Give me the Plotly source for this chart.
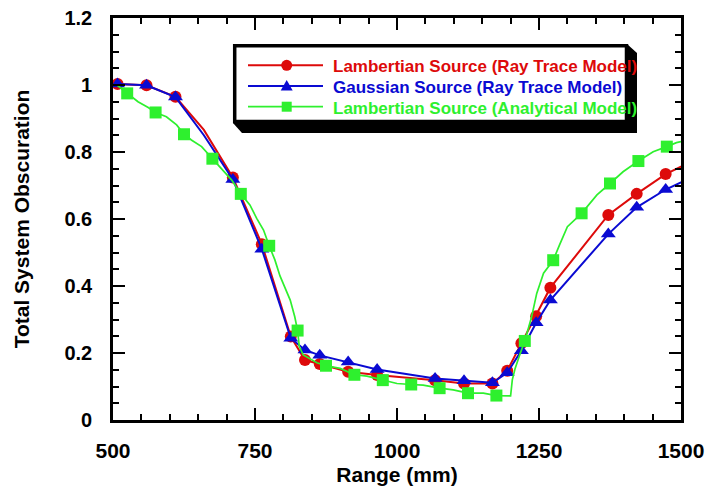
import plotly.graph_objects as go

# ---------------- data ----------------
ray_x = [508, 559, 610, 660, 711, 762, 813, 838, 864, 914, 965, 1067, 1118,
         1168, 1194, 1219, 1245, 1270, 1372, 1422, 1473, 1524]
lamb_ray_y = [1.003, 0.999, 0.965, 0.866, 0.724, 0.525, 0.249, 0.179, 0.167,
              0.144, 0.134, 0.119, 0.109, 0.109, 0.147, 0.229, 0.310, 0.395,
              0.612, 0.675, 0.734, 0.776]
gauss_ray_y = [1.003, 0.999, 0.964, 0.850, 0.718, 0.510, 0.244, 0.209, 0.193,
               0.173, 0.151, 0.124, 0.117, 0.111, 0.141, 0.207, 0.290, 0.358,
               0.555, 0.635, 0.688, 0.728]
ray_marked = [1, 1, 1, 0, 1, 1, 1, 1, 1, 1, 1, 1, 1, 1, 1, 1, 1, 1, 1, 1, 1, 0]

ana_x = [507, 525, 544, 562, 575, 594, 612, 625, 638, 656, 675, 694, 709, 725,
         741, 753, 765, 775, 785, 794, 805, 812, 820, 825, 828, 835, 859, 875,
         900, 925, 947, 975, 1000, 1025, 1046, 1075, 1099, 1125, 1152, 1175,
         1200, 1203, 1208, 1217, 1225, 1237, 1246, 1258, 1275, 1286, 1300,
         1325, 1352, 1375, 1398, 1425, 1451, 1475, 1492, 1500]
ana_y = [1.000, 0.975, 0.950, 0.933, 0.918, 0.905, 0.881, 0.853, 0.836, 0.816,
         0.780, 0.746, 0.716, 0.675, 0.642, 0.602, 0.567, 0.520, 0.478, 0.430,
         0.385, 0.358, 0.308, 0.267, 0.219, 0.194, 0.171, 0.162, 0.154, 0.135,
         0.131, 0.119, 0.109, 0.106, 0.104, 0.095, 0.090, 0.080, 0.080, 0.073,
         0.072, 0.120, 0.154, 0.199, 0.236, 0.308, 0.378, 0.438, 0.477, 0.522,
         0.577, 0.617, 0.672, 0.706, 0.741, 0.773, 0.801, 0.816, 0.828, 0.831]
ana_marked = [0, 1, 0, 0, 1, 0, 0, 1, 0, 0, 1, 0, 0, 1, 0, 0, 0, 1, 0, 0, 0, 0,
              0, 1, 0, 0, 0, 1, 0, 1, 0, 1, 0, 1, 0, 1, 0, 1, 0, 1, 0, 0, 0, 0,
              1, 0, 0, 0, 1, 0, 0, 1, 0, 1, 0, 1, 0, 1, 0, 0]

x_ticks = [500, 750, 1000, 1250, 1500]
x_ticktext = ["500", "750", "1000", "1250", "1500"]
y_ticks = [0, 0.2, 0.4, 0.6, 0.8, 1.0, 1.2]
y_ticktext = ["0", "0.2", "0.4", "0.6", "0.8", "1", "1.2"]

names = ["Lambertian Source (Ray Trace Model)",
         "Gaussian Source (Ray Trace Model)",
         "Lambertian Source (Analytical Model)"]

RED = "#dd0a0a"
BLUE = "#0a0ad2"
GREEN = "#2ef02e"
FONT = "Liberation Sans, Arial, Helvetica, sans-serif"

W, H = 709, 493
L, R, T, B = 113, 681, 18, 420

fig = go.Figure()
fig.add_trace(go.Scatter(
    x=ray_x, y=lamb_ray_y, mode="lines+markers", name=names[0],
    line=dict(color=RED, width=2),
    marker=dict(symbol="circle", size=[12 * m for m in ray_marked], color=RED,
                opacity=1, line=dict(width=0)),
    showlegend=False))
fig.add_trace(go.Scatter(
    x=ray_x, y=gauss_ray_y, mode="lines+markers", name=names[1],
    line=dict(color=BLUE, width=2),
    marker=dict(symbol="triangle-up", size=[13 * m for m in ray_marked],
                color=BLUE, opacity=1, line=dict(width=0)),
    showlegend=False))
fig.add_trace(go.Scatter(
    x=ana_x, y=ana_y, mode="lines+markers", name=names[2],
    line=dict(color=GREEN, width=1.7),
    marker=dict(symbol="square", size=[12 * m for m in ana_marked],
                color=GREEN, opacity=1, line=dict(width=0)),
    showlegend=False))


# ---------------- legend (drawn box) ----------------
def px(x):
    return (x - L) / (R - L)


def py(y):
    return (B - y) / (B - T)


def path(pts):
    return "M " + " L ".join(f"{px(a):.5f},{py(b):.5f}" for a, b in pts) + " Z"


shapes = []
shapes.append(dict(type="path", xref="paper", yref="paper",
                   path=path([(233, 123), (242, 133), (637, 133), (637, 53), (627, 44)]),
                   fillcolor="black", line=dict(width=0), layer="above"))
shapes.append(dict(type="rect", xref="paper", yref="paper",
                   x0=px(234.7), x1=px(626.5), y0=py(121.5), y1=py(45.7),
                   fillcolor="white", line=dict(color="black", width=3.5),
                   layer="above"))
leg_y = [65.3, 86.0, 106.7]
cols = [RED, BLUE, GREEN]
widths = [2, 2, 1.7]
for yy, c, w in zip(leg_y, cols, widths):
    shapes.append(dict(type="line", xref="paper", yref="paper",
                       x0=px(248), x1=px(323), y0=py(yy), y1=py(yy),
                       line=dict(color=c, width=w), layer="above"))
mx = 286.7
shapes.append(dict(type="circle", xref="paper", yref="paper",
                   x0=px(mx - 5.5), x1=px(mx + 5.5), y0=py(leg_y[0] + 5.5),
                   y1=py(leg_y[0] - 5.5), fillcolor=RED, line=dict(width=0),
                   layer="above"))
shapes.append(dict(type="path", xref="paper", yref="paper",
                   path=path([(mx - 6, leg_y[1] + 4.5), (mx + 6, leg_y[1] + 4.5),
                              (mx, leg_y[1] - 6)]),
                   fillcolor=BLUE, line=dict(width=0), layer="above"))
shapes.append(dict(type="rect", xref="paper", yref="paper",
                   x0=px(mx - 5), x1=px(mx + 5), y0=py(leg_y[2] + 5),
                   y1=py(leg_y[2] - 5), fillcolor=GREEN, line=dict(width=0),
                   layer="above"))

annotations = []
for yy, c, n in zip(leg_y, cols, names):
    annotations.append(dict(xref="paper", yref="paper", x=px(331), y=py(yy + 1.5),
                            xanchor="left", yanchor="middle", showarrow=False,
                            text=n, font=dict(family=FONT, size=17, color=c,
                                              weight="bold")))

axis_common = dict(
    showgrid=False, zeroline=False, showline=True, linecolor="black",
    linewidth=2.6, mirror="ticks", ticks="inside", ticklen=12, tickwidth=2,
    tickcolor="black", tickmode="array", automargin=False,
)

fig.update_layout(
    width=W, height=H,
    margin=dict(l=L, r=W - R, t=T, b=H - B, pad=0, autoexpand=False),
    paper_bgcolor="white", plot_bgcolor="white",
    font=dict(family=FONT, color="black"),
    shapes=shapes, annotations=annotations,
    xaxis=dict(
        range=[500, 1500], tickvals=x_ticks, ticktext=x_ticktext,
        tickfont=dict(family=FONT, size=21, weight="bold"),
        ticklabelstandoff=10,
        minor=dict(ticks="inside", ticklen=6, tickwidth=2, tickcolor="black",
                   tickmode="linear", tick0=500, dtick=50, showgrid=False),
        title=dict(text="Range (mm)", standoff=7,
                   font=dict(family=FONT, size=21, weight="bold")),
        **axis_common),
    yaxis=dict(
        range=[0, 1.2], tickvals=y_ticks, ticktext=y_ticktext,
        tickfont=dict(family=FONT, size=20, weight="bold"),
        ticklabelstandoff=14,
        minor=dict(ticks="inside", ticklen=6, tickwidth=2, tickcolor="black",
                   tickmode="linear", tick0=0, dtick=0.05, showgrid=False),
        title=dict(text="Total System Obscuration", standoff=30,
                   font=dict(family=FONT, size=21, weight="bold")),
        **axis_common),
)

fig.write_html("out.html")
